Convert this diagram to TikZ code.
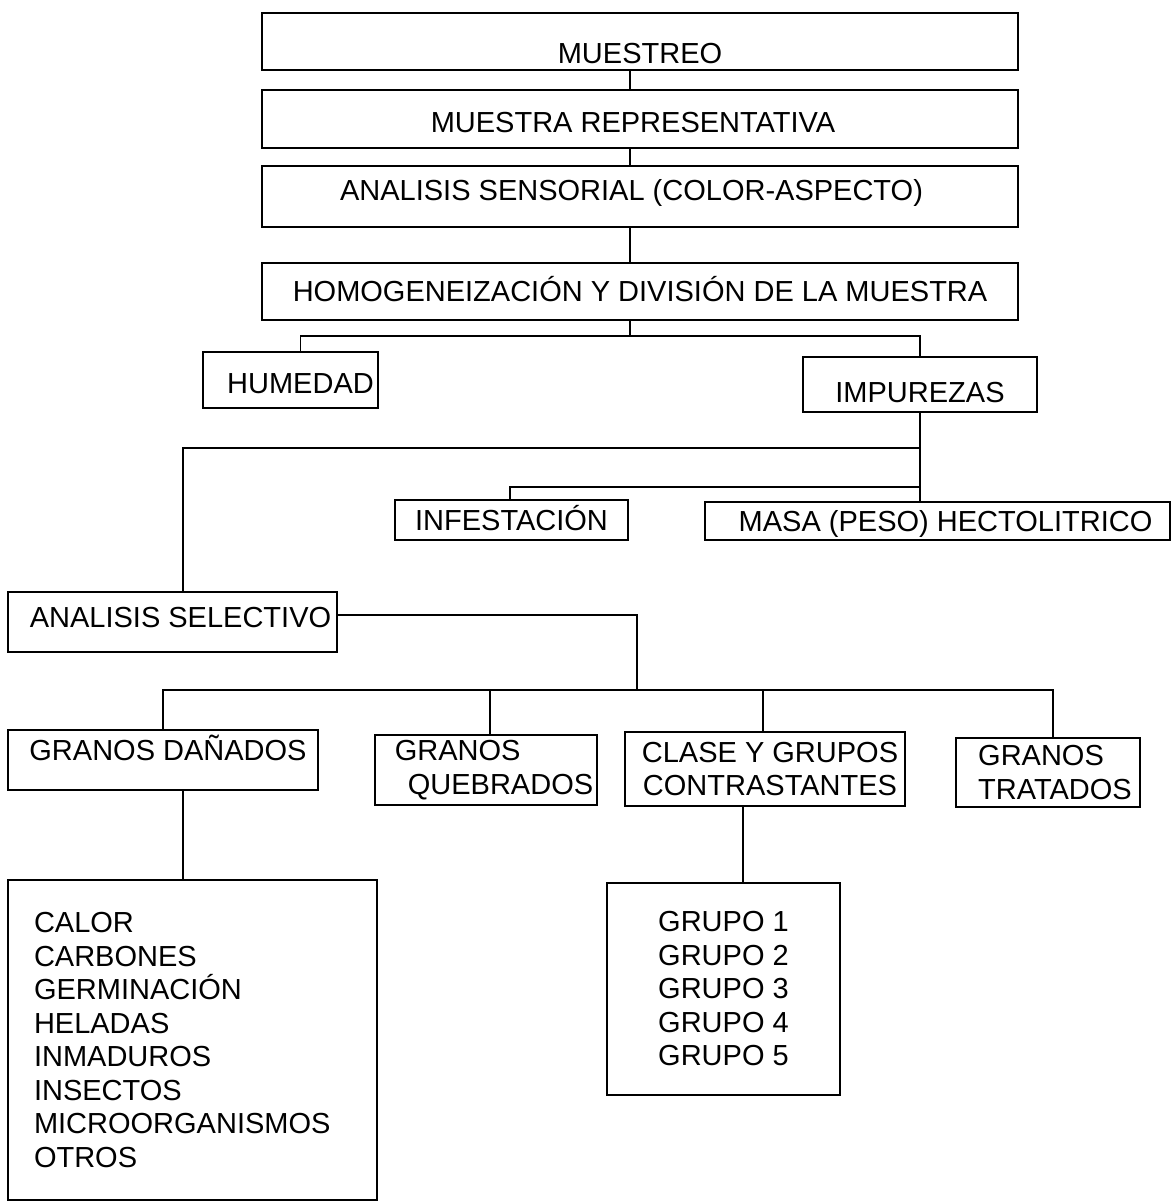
\documentclass[tikz,border=0pt]{standalone}
\usepackage{fontspec}
\setmainfont{Liberation Sans}

\begin{document}
\begin{tikzpicture}[x=1pt,y=-1pt,line width=1.2pt,
  box/.style={draw,rectangle,inner sep=0pt,font=\fontsize{29}{33.5}\selectfont},
  one/.style={box,text height=#1,text depth=0pt},
  one/.default=20.8pt]
\useasboundingbox (0,0) rectangle (1172,1204);

\node[one=44.8pt,minimum width=756pt,minimum height=57pt] (muestreo) at (640,41.5) {MUESTREO};
\node[one=26.8pt,minimum width=756pt,minimum height=58pt] (muestra) at (640,119) {MUESTRA REPRESENTATIVA\hspace*{14pt}};
\node[one=7.8pt,minimum width=756pt,minimum height=61pt] (sensorial) at (640,196.5) {ANALISIS SENSORIAL (COLOR-ASPECTO)\hspace*{17pt}};
\node[one,minimum width=756pt,minimum height=57pt] (homog) at (640,291.5) {HOMOGENEIZACIÓN Y DIVISIÓN DE LA MUESTRA};
\node[one=26.8pt,minimum width=175pt,minimum height=56pt] (humedad) at (290.5,380) {\hspace*{20pt}HUMEDAD};
\node[one=35.8pt,minimum width=234pt,minimum height=55pt] (impurezas) at (920,384.5) {IMPUREZAS};
\node[one,minimum width=233pt,minimum height=40pt] (infestacion) at (511.5,520) {INFESTACIÓN};
\node[one,minimum width=465pt,minimum height=38pt] (masa) at (937.5,521) {\hspace*{16pt}MASA (PESO) HECTOLITRICO};
\node[one=10.8pt,minimum width=329pt,minimum height=60pt] (selectivo) at (172.5,622) {\hspace*{16pt}ANALISIS SELECTIVO};
\node[one=0.8pt,minimum width=310pt,minimum height=60pt] (danados) at (163,760) {\hspace*{10pt}GRANOS DAÑADOS};
\node[box,align=left,minimum width=222pt,minimum height=70pt] (quebrados) at (486,770) {\hspace*{16pt}GRANOS\\\hspace*{29pt}QUEBRADOS};
\node[box,align=center,minimum width=280pt,minimum height=74pt] (clase) at (765,769) {\hspace*{10pt}CLASE Y GRUPOS\\\hspace*{10pt}CONTRASTANTES};
\node[box,align=left,minimum width=184pt,minimum height=69pt] (tratados) at (1048,772.5) {\hspace*{14pt}GRANOS\\\hspace*{14pt}TRATADOS};
\node[box,align=left,minimum width=369pt,minimum height=320pt] (lista) at (192.5,1040) {CALOR\\CARBONES\\GERMINACIÓN\\HELADAS\\INMADUROS\\INSECTOS\\\makebox[317pt][l]{MICROORGANISMOS}\\OTROS};
\node[box,align=center,minimum width=233pt,minimum height=212pt] (grupos) at (723.5,989) {GRUPO 1\\GRUPO 2\\GRUPO 3\\GRUPO 4\\GRUPO 5};

\coordinate (spine) at (630,0);
\coordinate (j1) at (630,336);
\coordinate (j2) at (920,448);
\coordinate (j3) at (920,487);
\coordinate (j4) at (637,690);

\draw (muestreo.south -| spine) -- (muestra.north -| spine);
\draw (muestra.south -| spine) -- (sensorial.north -| spine);
\draw (sensorial.south -| spine) -- (homog.north -| spine);
\draw (homog.south -| spine) -- (j1);
\draw ([xshift=10pt]humedad.north) |- (j1) -| (impurezas.north);
\draw (impurezas.south) -- (masa.north -| impurezas.south);
\draw (j2) -| ([xshift=10.5pt]selectivo.north);
\draw (j3) -| ([xshift=-1.5pt]infestacion.north);
\draw ([yshift=7pt]selectivo.east) -| (j4);
\draw (danados.north) |- (j4) -| ([xshift=5pt]tratados.north);
\draw ([xshift=4pt]quebrados.north) |- (j4);
\draw ([xshift=-2pt]clase.north) |- (j4);
\draw ([xshift=20pt]danados.south) -- ([xshift=20pt]danados.south |- lista.north);
\draw ([xshift=-22pt]clase.south) -- ([xshift=-22pt]clase.south |- grupos.north);

\end{tikzpicture}
\end{document}
